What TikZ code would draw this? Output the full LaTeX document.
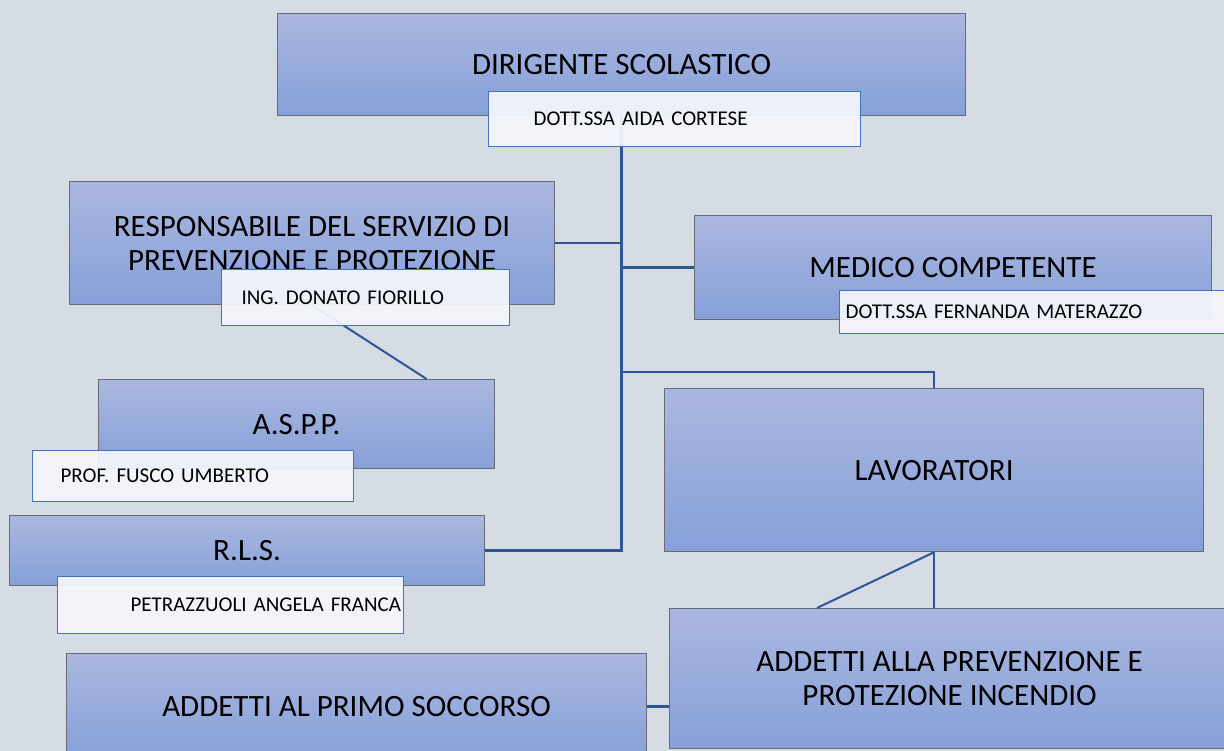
\documentclass[tikz,border=0pt]{standalone}
\usepackage{fontspec}
\setmainfont{Carlito}
\usetikzlibrary{positioning}
\definecolor{sfondo}{RGB}{214,220,228}
\definecolor{ruoloalto}{RGB}{170,183,224}
\definecolor{ruolobasso}{RGB}{134,160,216}
\definecolor{bordo}{RGB}{105,108,118}
\definecolor{lineablu}{RGB}{47,85,151}
\definecolor{bordonome}{RGB}{68,114,196}
\definecolor{fondonome}{RGB}{245,247,252}
\tikzset{
    %Define style for role boxes
    ruolo/.style={
           rectangle,
           draw=bordo, line width=1.2pt,
           top color=ruoloalto, bottom color=ruolobasso,
           anchor=north west,
           inner sep=0pt,
           align=center,
           font=\fontsize{31}{34}\selectfont},
    %Define style for name labels
    nome/.style={
           rectangle,
           draw=bordonome, line width=1.2pt,
           fill=fondonome, fill opacity=0.92, text opacity=1,
           anchor=north west,
           inner sep=0pt,
           align=left,
           font=\fontsize{21}{24}\selectfont,
           execute at begin node={\hspace*{#1}}},
    % Define connector styles
    collega/.style={draw=lineablu, line width=2.6pt},
    collegafine/.style={draw=lineablu, line width=2pt}
}
\begin{document}
\begin{tikzpicture}[x=1pt,y=-1pt]
\useasboundingbox (0,0) rectangle (1224,751);
\fill[sfondo] (0,0) rectangle (1224,751);
\clip (0,0) rectangle (1224,751);
 %roles
\node[ruolo, minimum width=688pt, minimum height=102pt] (dirigente) at (277,13) {DIRIGENTE SCOLASTICO};
\node[ruolo, minimum width=485pt, minimum height=123pt] (rspp) at (69,181) {RESPONSABILE DEL SERVIZIO DI\\PREVENZIONE E PROTEZIONE};
\node[ruolo, minimum width=517pt, minimum height=104pt] (medico) at (694,215) {MEDICO COMPETENTE};
\node[ruolo, minimum width=396pt, minimum height=89pt] (aspp) at (98,379) {A.S.P.P.};
\node[ruolo, minimum width=539pt, minimum height=163pt] (lavoratori) at (664,388) {LAVORATORI};
\node[ruolo, minimum width=475pt, minimum height=70pt] (rls) at (9,515) {R.L.S.};
\node[ruolo, minimum width=560pt, minimum height=140pt] (antincendio) at (669,608) {ADDETTI ALLA PREVENZIONE E\\PROTEZIONE INCENDIO};
\node[ruolo, minimum width=580pt, minimum height=106pt] (soccorso) at (66,653) {ADDETTI AL PRIMO SOCCORSO};
 %connectors
\draw[collega] (dirigente.south) |- (rls.east);
\draw[collega] (rspp.east) -- (rspp.east -| dirigente.south);
\draw[collega] (medico.west) -- (medico.west -| dirigente.south);
\draw[collega] (lavoratori.north) -- ([yshift=16pt]lavoratori.north) -| (dirigente.south);
\draw[collegafine] (lavoratori.south) -- (lavoratori.south |- antincendio.north);
\draw[collegafine] (lavoratori.south) -- ([xshift=148pt]antincendio.north west);
\draw[collega] (soccorso.east) -- (soccorso.east -| antincendio.west);
\draw[collegafine] (rspp.south) -- ([xshift=130pt]aspp.north);
 %names
\node[nome=45pt, text width=372pt, minimum height=55pt] (dirnome) at (488,91) {DOTT.SSA AIDA CORTESE};
\node[nome=20pt, text width=288pt, minimum height=56pt] (rsppnome) at (221,269) {ING. DONATO FIORILLO};
\node[nome=6pt, text width=412pt, minimum height=43pt] (mediconome) at (839,290) {DOTT.SSA FERNANDA MATERAZZO};
\node[nome=28pt, text width=321pt, minimum height=51pt] (asppnome) at (32,450) {PROF. FUSCO UMBERTO};
\node[nome=73pt, text width=346pt, minimum height=57pt] (rlsnome) at (57,576) {PETRAZZUOLI ANGELA FRANCA};
\end{tikzpicture}
\end{document}
